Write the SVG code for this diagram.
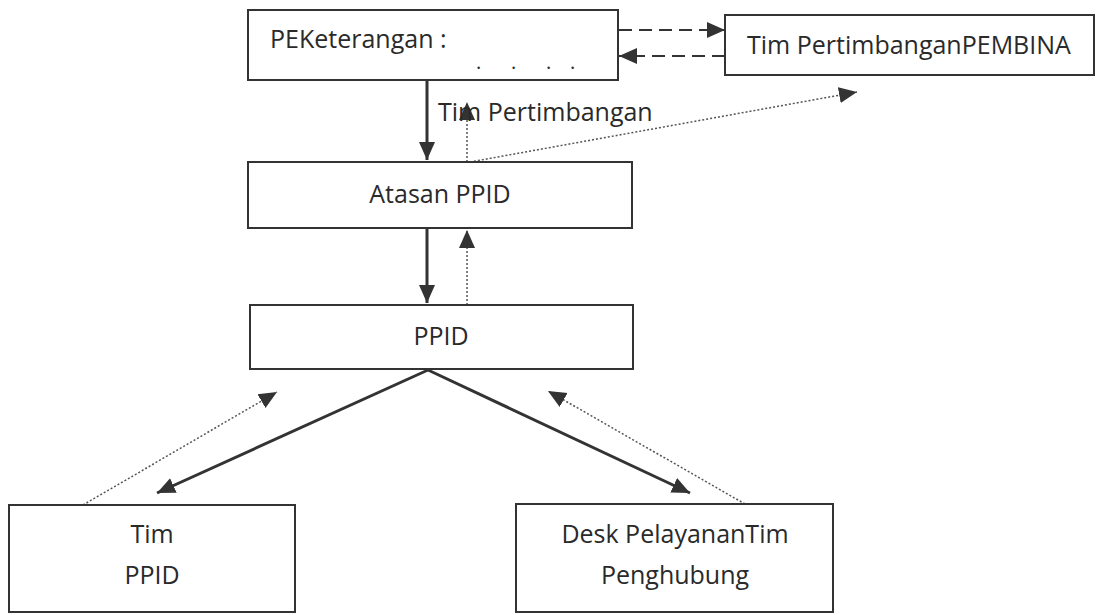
<svg xmlns="http://www.w3.org/2000/svg" width="1098" height="615" viewBox="0 0 1098 615">
<style>
.box{fill:#fff;stroke:#333;stroke-width:2}
.t{font-family:"Open Sans","Noto Sans",sans-serif;font-size:25px;fill:#2a2a2a}
.c{text-anchor:middle}
.solid{stroke:#333;stroke-width:3;fill:none;marker-end:url(#ah)}
.dot{stroke:#555;stroke-width:1.5;stroke-dasharray:2 2;fill:none;marker-end:url(#ah)}
.dash{stroke:#333;stroke-width:2;stroke-dasharray:13 7;fill:none;marker-end:url(#ah)}
</style>
<defs>
<marker id="ah" markerUnits="userSpaceOnUse" markerWidth="20" markerHeight="18" viewBox="0 0 20 18" refX="18" refY="9" orient="auto">
<path d="M0,1 L18,9 L0,17 Z" fill="#333"/>
</marker>
</defs>
<rect width="1098" height="615" fill="#fff"/>
<g id="connectors">
<line class="solid" x1="427" y1="81" x2="427" y2="160"/>
<line class="dot" x1="467" y1="162" x2="467" y2="102"/>
<line class="dot" x1="470" y1="162" x2="857" y2="92"/>
<line class="dash" x1="619" y1="30" x2="725" y2="30"/>
<line class="dash" x1="725" y1="56" x2="619" y2="56"/>
<line class="solid" x1="427" y1="229" x2="427" y2="303"/>
<line class="dot" x1="467" y1="305" x2="467" y2="230"/>
<line class="solid" x1="428" y1="370" x2="157" y2="493"/>
<line class="solid" x1="428" y1="370" x2="690" y2="493"/>
<line class="dot" x1="83" y1="505" x2="277" y2="392"/>
<line class="dot" x1="745" y1="504" x2="548" y2="391"/>
<text class="t" x="438" y="121">Tim Pertimbangan</text>
</g>
<g id="peketerangan">
<rect class="box" x="248" y="10" width="370" height="70"/>
<text class="t" x="270" y="48">PEKeterangan :</text>
<text class="t" x="476 511 546 570" y="69" style="font-size:20px">....</text>
</g>
<g id="tim-pertimbangan-pembina">
<rect class="box" x="725" y="15" width="369" height="60"/>
<text class="t" x="747" y="54">Tim PertimbanganPEMBINA</text>
</g>
<g id="atasan-ppid">
<rect class="box" x="248" y="162" width="384" height="66"/>
<text class="t c" x="440" y="203">Atasan PPID</text>
</g>
<g id="ppid">
<rect class="box" x="250" y="305" width="383" height="64"/>
<text class="t c" x="441" y="345">PPID</text>
</g>
<g id="tim-ppid">
<rect class="box" x="9" y="505" width="286" height="107"/>
<text class="t c" x="152" y="543">Tim</text>
<text class="t c" x="152" y="584">PPID</text>
</g>
<g id="desk-pelayanan">
<rect class="box" x="516" y="504" width="317" height="108"/>
<text class="t c" x="675" y="543">Desk PelayananTim</text>
<text class="t c" x="675" y="584">Penghubung</text>
</g>
</svg>
